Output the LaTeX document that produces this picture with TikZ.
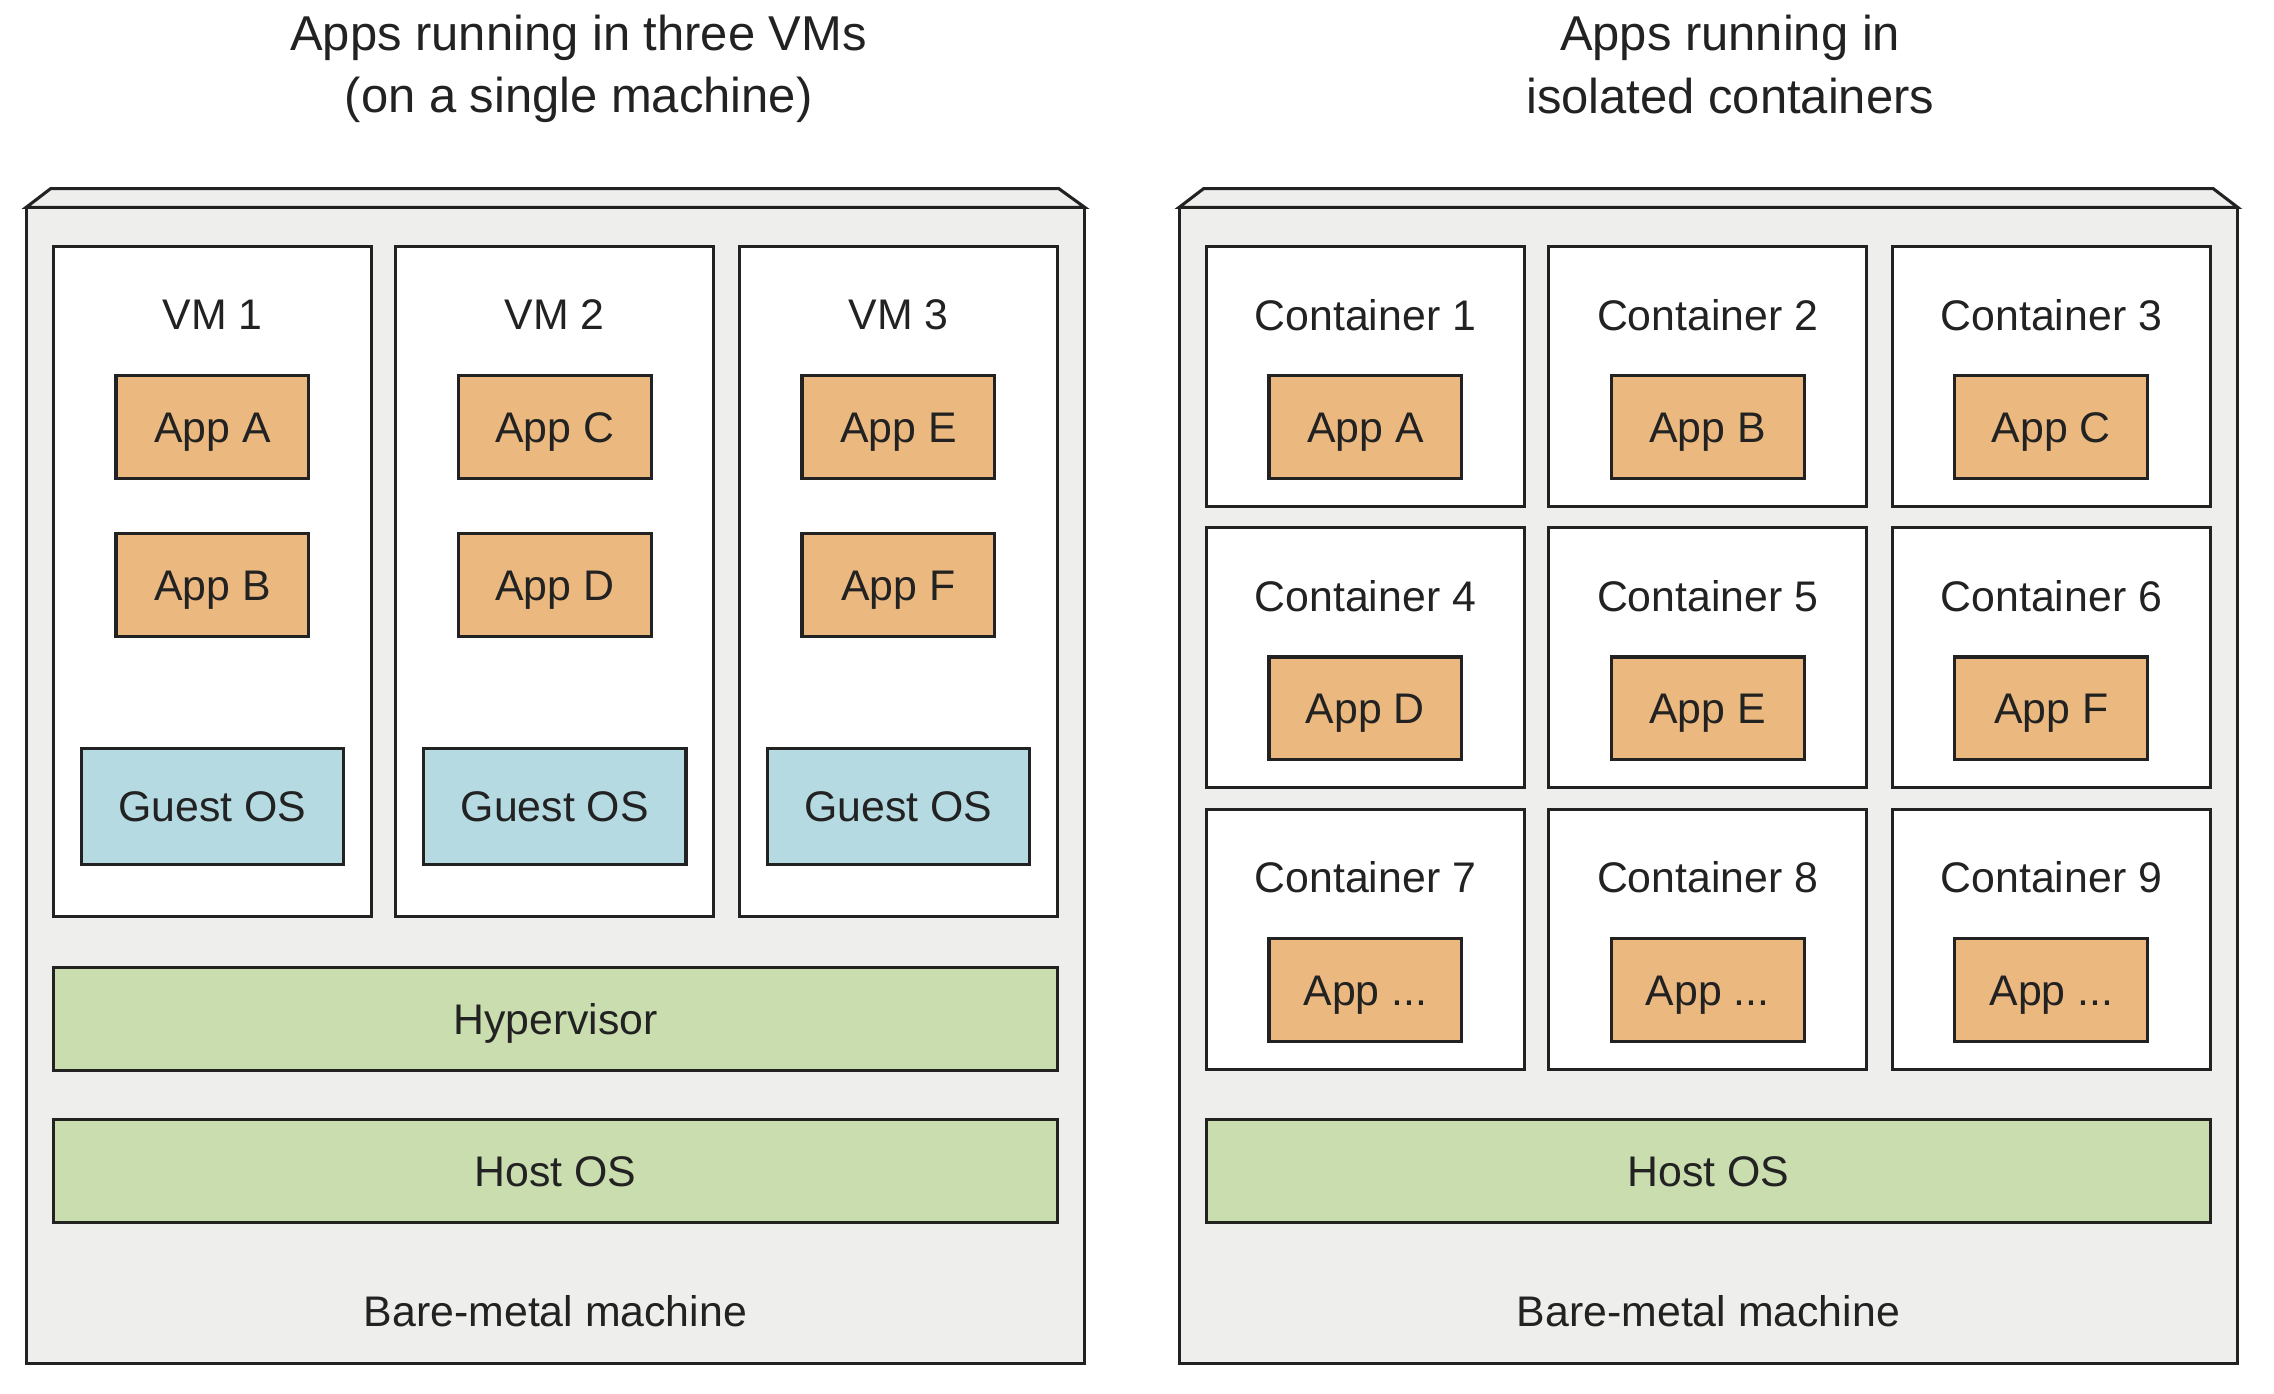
\documentclass[tikz,border=0pt]{standalone}
\usepackage{fontspec}
\setmainfont{Liberation Sans}
\usepackage{xcolor}
\usepackage{tikz}
\definecolor{metalgray}{RGB}{238, 238, 237}
\definecolor{appamber}{RGB}{235, 185, 127}
\definecolor{guestblue}{RGB}{181, 218, 225}
\definecolor{layergreen}{RGB}{202, 221, 175}
\definecolor{edgeblack}{RGB}{34, 34, 34}
\tikzset{
  bodytext/.style={font=\fontsize{8.4}{10}\selectfont, text=edgeblack},
  titletext/.style={font=\fontsize{9.6}{12.2}\selectfont, align=center, text=edgeblack},
  boxtext/.style={bodytext, text height=6pt, text depth=0pt},
  machine/.style={draw=edgeblack, line width=0.6pt, fill=metalgray},
  vmbox/.style={draw=edgeblack, line width=0.6pt, fill=white, minimum width=21.9mm, minimum height=46.2mm, inner sep=0pt},
  ctbox/.style={draw=edgeblack, line width=0.6pt, fill=white, minimum width=21.9mm, minimum height=17.95mm, inner sep=0pt},
  appbox/.style={boxtext, draw=edgeblack, line width=0.6pt, fill=appamber, minimum width=13.3mm, minimum height=7.1mm, inner sep=0pt},
  guestbox/.style={boxtext, draw=edgeblack, line width=0.6pt, fill=guestblue, minimum width=18.1mm, minimum height=8mm, inner sep=0pt},
  layerbox/.style={boxtext, draw=edgeblack, line width=0.6pt, fill=layergreen, minimum width=69.2mm, minimum height=7.1mm, inner sep=0pt}
}
\begin{document}
\begin{tikzpicture}[x=0.1mm, y=-0.1mm]
    \useasboundingbox (0,0) rectangle (1568,961.2);

    % Titles
    \node[titletext] (titleL) at (399,47.5) {Apps running in three VMs\\(on a single machine)};
    \node[titletext] (titleR) at (1193,44.5) {Apps running in\\isolated containers};

    % Left machine
    \draw[machine] (18,143) -- (35,130) -- (730,130) -- (748,143) -- cycle;
    \draw[machine] (18,143) rectangle (748,940);

    \node[vmbox] (vm1) at (146.5,401) {};
    \node[vmbox] (vm2) at (382.5,401) {};
    \node[vmbox] (vm3) at (619.5,401) {};

    \node[bodytext] (vmlab1) at (146.5,217) {VM 1};
    \node[bodytext] (vmlab2) at (382.5,217) {VM 2};
    \node[bodytext] (vmlab3) at (619.5,217) {VM 3};

    \node[appbox] (appA) at (146.5,294.5) {App A};
    \node[appbox] (appB) at (146.5,403.5) {App B};
    \node[appbox] (appC) at (382.5,294.5) {App C};
    \node[appbox] (appD) at (382.5,403.5) {App D};
    \node[appbox] (appE) at (619.5,294.5) {App E};
    \node[appbox] (appF) at (619.5,403.5) {App F};

    \node[guestbox] (gos1) at (146.5,556) {Guest OS};
    \node[guestbox] (gos2) at (382.5,556) {Guest OS};
    \node[guestbox] (gos3) at (619.5,556) {Guest OS};

    \node[layerbox] (hyp) at (383,702.5) {Hypervisor};
    \node[layerbox] (hostL) at (383,807.5) {Host OS};
    \node[bodytext] (bmL) at (383,904) {Bare-metal machine};

    % Right machine
    \draw[machine] (813,143) -- (830,130) -- (1526,130) -- (1543,143) -- cycle;
    \draw[machine] (813,143) rectangle (1543,940);

    \node[ctbox] (ct1) at (941.5,259.5) {};
    \node[ctbox] (ct2) at (1177.5,259.5) {};
    \node[ctbox] (ct3) at (1414.5,259.5) {};
    \node[ctbox] (ct4) at (941.5,453.5) {};
    \node[ctbox] (ct5) at (1177.5,453.5) {};
    \node[ctbox] (ct6) at (1414.5,453.5) {};
    \node[ctbox] (ct7) at (941.5,648) {};
    \node[ctbox] (ct8) at (1177.5,648) {};
    \node[ctbox] (ct9) at (1414.5,648) {};

    \node[bodytext] (ctlab1) at (941.5,217) {Container 1};
    \node[bodytext] (ctlab2) at (1177.5,217) {Container 2};
    \node[bodytext] (ctlab3) at (1414.5,217) {Container 3};
    \node[bodytext] (ctlab4) at (941.5,411) {Container 4};
    \node[bodytext] (ctlab5) at (1177.5,411) {Container 5};
    \node[bodytext] (ctlab6) at (1414.5,411) {Container 6};
    \node[bodytext] (ctlab7) at (941.5,605) {Container 7};
    \node[bodytext] (ctlab8) at (1177.5,605) {Container 8};
    \node[bodytext] (ctlab9) at (1414.5,605) {Container 9};

    \node[appbox] (capp1) at (941.5,294.5) {App A};
    \node[appbox] (capp2) at (1177.5,294.5) {App B};
    \node[appbox] (capp3) at (1414.5,294.5) {App C};
    \node[appbox] (capp4) at (941.5,488.5) {App D};
    \node[appbox] (capp5) at (1177.5,488.5) {App E};
    \node[appbox] (capp6) at (1414.5,488.5) {App F};
    \node[appbox] (capp7) at (941.5,682.5) {App ...};
    \node[appbox] (capp8) at (1177.5,682.5) {App ...};
    \node[appbox] (capp9) at (1414.5,682.5) {App ...};

    \node[layerbox] (hostR) at (1178,807.5) {Host OS};
    \node[bodytext] (bmR) at (1178,904) {Bare-metal machine};
\end{tikzpicture}
\end{document}
